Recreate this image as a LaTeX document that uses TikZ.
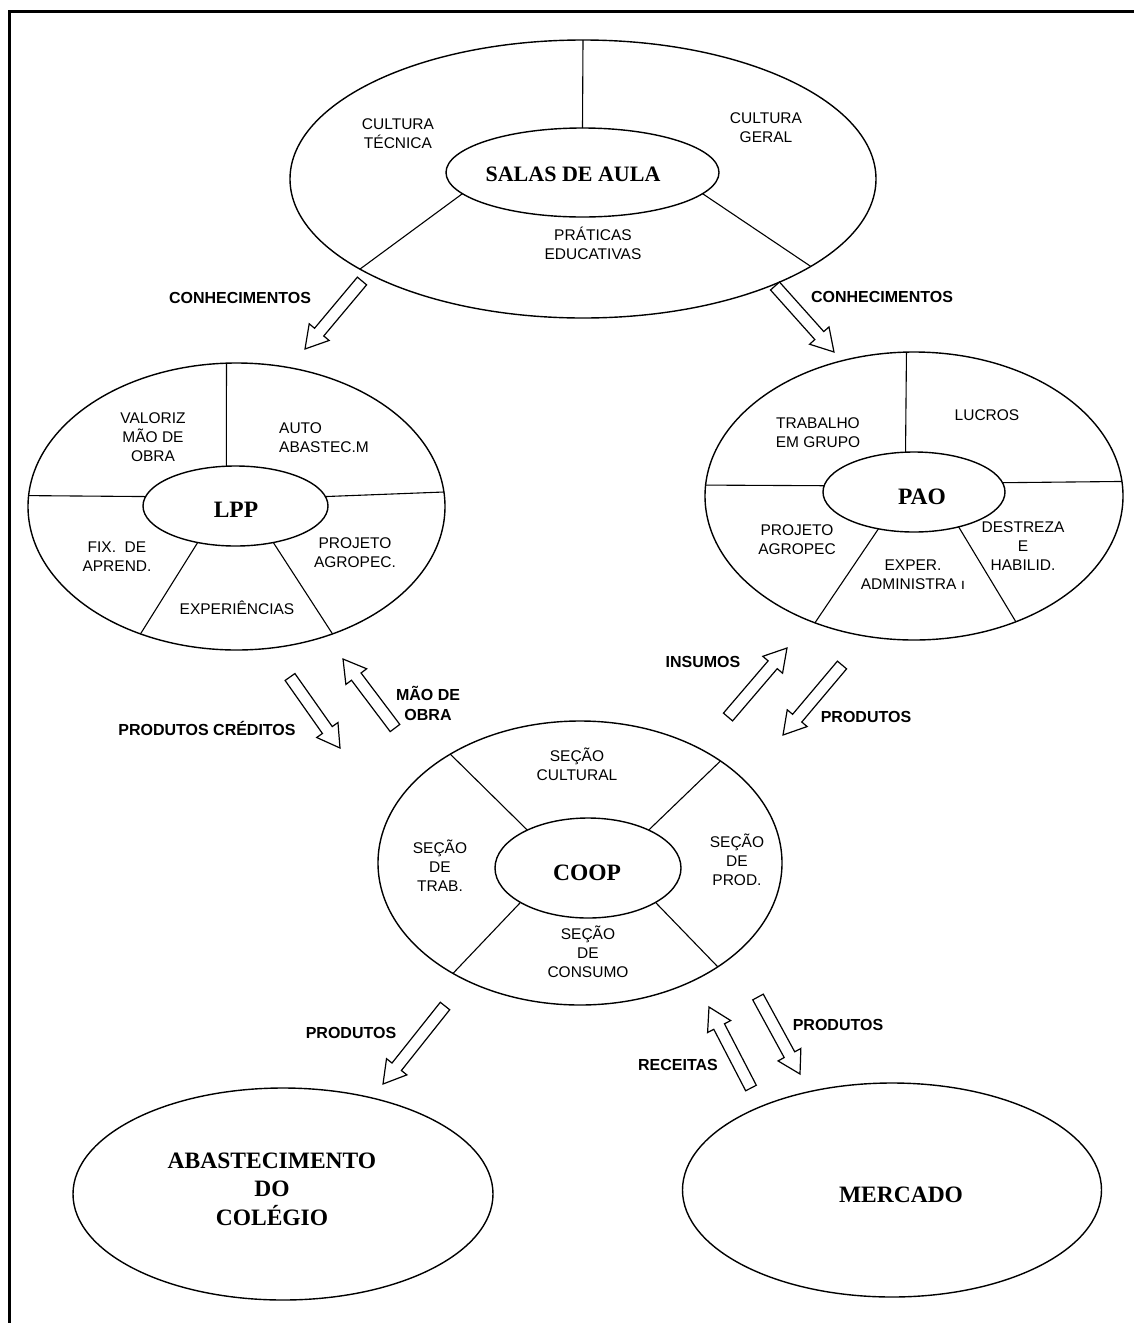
\documentclass[tikz,border=0pt]{standalone}
\usepackage{fontspec}
\setmainfont{Liberation Serif}
\newfontfamily\labfont{Liberation Sans}
\usetikzlibrary{shapes.geometric,calc}

\newcommand\blockarrow[2]{%
  \path let \p1=(#1), \p2=(#2) in \pgfextra{%
    \pgfmathsetmacro\baang{atan2(\y2-\y1,\x2-\x1)}%
    \pgfmathsetmacro\balen{veclen(\x2-\x1,\y2-\y1)}%
    \global\let\baang\baang \global\let\balen\balen};
  \draw[arrowline,shift={(#1)},rotate=\baang]
    (0pt,-6pt) -- ({\balen pt-22pt},-6pt) -- ({\balen pt-22pt},-13pt)
    -- ({\balen pt},0pt) -- ({\balen pt-22pt},13pt) -- ({\balen pt-22pt},6pt)
    -- (0pt,6pt) -- cycle;}

\begin{document}
\begin{tikzpicture}[x=1pt,y=-1pt,
  frame/.style={line width=2.6pt},
  ring/.style={ellipse,draw,line width=1.4pt,inner sep=0pt,outer sep=0pt},
  divider/.style={line width=1.1pt},
  arrowline/.style={draw,line width=1.2pt,line join=miter},
  lab/.style={font=\labfont\fontsize{15.5}{19}\selectfont,align=center,inner sep=0pt},
  blab/.style={font=\labfont\bfseries\fontsize{16}{20}\selectfont,align=center,inner sep=0pt},
  title/.style={font=\bfseries\fontsize{23.5}{28.5}\selectfont,align=center,inner sep=0pt}]

\useasboundingbox (0,0) rectangle (1134,1323);
\draw[frame] (9.5,1323) -- (9.5,11.5) -- (1134,11.5);

% ---------- SALAS DE AULA ----------
\node[ring,minimum width=586pt,minimum height=278pt] (salas) at (583,179) {};
\node[ring,minimum width=273pt,minimum height=89pt] (salasin) at (582.5,172.5) {};
\draw[divider] (salasin.90) -- (salas.90);
\draw[divider] (salasin.190.4) -- (salas.202);
\draw[divider] (salasin.350.2) -- (salas.339.7);
\node[title,font=\bfseries\fontsize{22}{26}\selectfont] (tsalas) at (573,174) {SALAS DE AULA};
\node[lab] (ct) at (398,134) {CULTURA\\TÉCNICA};
\node[lab] (cg) at (766,128) {CULTURA\\GERAL};
\node[lab] (pe) at (593,243) {PRÁTICAS\\EDUCATIVAS};

% ---------- LPP ----------
\node[ring,minimum width=417pt,minimum height=287pt] (lpp) at (236.5,506.5) {};
\node[ring,minimum width=185pt,minimum height=80pt] (lppin) at (235.5,506) {};
\draw[divider] (lppin.103.4) -- (lpp.94.2);
\draw[divider] (lppin.174.4) -- (lpp.177.9);
\draw[divider] (lppin.6.8) -- (lpp.4);
\draw[divider] (lppin.224) -- (lpp.233.6);
\draw[divider] (lppin.316) -- (lpp.307.2);
\node[title] (tlpp) at (236,510) {LPP};
\node[lab] (vm) at (153,437) {VALORIZ\\MÃO DE\\OBRA};
\node[lab,align=left] (aa) at (324,438) {AUTO\\ABASTEC.M};
\node[lab] (fa) at (117,557) {FIX.\ \ DE\\APREND.};
\node[lab] (pa1) at (355,553) {PROJETO\\AGROPEC.};
\node[lab] (ex) at (237,608) {EXPERIÊNCIAS};

% ---------- PAO ----------
\node[ring,minimum width=418pt,minimum height=288pt] (pao) at (914,496) {};
\node[ring,minimum width=182pt,minimum height=80pt] (paoin) at (914,492) {};
\draw[divider] (paoin.102.7) -- (pao.93.6);
\draw[divider] (paoin.176.2) -- (pao.177.5);
\draw[divider] (paoin.6.3) -- (pao.4.4);
\draw[divider] (paoin.226.4) -- (pao.232.7);
\draw[divider] (paoin.322) -- (pao.309.4);
\node[title] (tpao) at (922,497) {PAO};
\node[lab] (tg) at (818,433) {TRABALHO\\EM GRUPO};
\node[lab] (lu) at (987,415) {LUCROS};
\node[lab] (pa2) at (797,540) {PROJETO\\AGROPEC};
\node[lab] (ea) at (913,575) {EXPER.\\ADMINISTRA ı};
\node[lab] (dh) at (1023,546) {DESTREZA\\E\\HABILID.};

% ---------- COOP ----------
\node[ring,minimum width=404pt,minimum height=284pt] (coop) at (580,863) {};
\node[ring,minimum width=186pt,minimum height=100pt] (coopin) at (588,868) {};
\draw[divider] (coopin.148.4) -- (coop.140.9);
\draw[divider] (coopin.32.6) -- (coop.36.9);
\draw[divider] (coopin.207.6) -- (coop.221.6);
\draw[divider] (coopin.333.8) -- (coop.323.8);
\node[title] (tcoop) at (587,873) {COOP};
\node[lab] (sc) at (577,764) {SEÇÃO\\CULTURAL};
\node[lab] (st) at (440,866) {SEÇÃO\\DE\\TRAB.};
\node[lab] (sp) at (737,860) {SEÇÃO\\DE\\PROD.};
\node[lab] (sco) at (588,952) {SEÇÃO\\DE\\CONSUMO};

% ---------- bottom ----------
\node[ring,minimum width=420pt,minimum height=212pt] (abast) at (283,1194) {};
\node[title] (tabast) at (272,1189) {ABASTECIMENTO\\DO\\COLÉGIO};
\node[ring,minimum width=419pt,minimum height=214pt] (merc) at (892,1190) {};
\node[title] (tmerc) at (901,1195) {MERCADO};

% ---------- arrows ----------
\coordinate (a1s) at (362,281); \coordinate (a1e) at (305,349);
\coordinate (a2s) at (775,286); \coordinate (a2e) at (834,352);
\coordinate (a3s) at (290,677); \coordinate (a3e) at (340,748);
\coordinate (a4s) at (395,728); \coordinate (a4e) at (343,659);
\coordinate (a5s) at (728,717); \coordinate (a5e) at (787,648);
\coordinate (a6s) at (842,665); \coordinate (a6e) at (783,735);
\coordinate (a7s) at (445,1006); \coordinate (a7e) at (383,1084);
\coordinate (a8s) at (751,1088); \coordinate (a8e) at (709,1007);
\coordinate (a9s) at (758,997); \coordinate (a9e) at (800,1074);
\blockarrow{a1s}{a1e}
\blockarrow{a2s}{a2e}
\blockarrow{a3s}{a3e}
\blockarrow{a4s}{a4e}
\blockarrow{a5s}{a5e}
\blockarrow{a6s}{a6e}
\blockarrow{a7s}{a7e}
\blockarrow{a8s}{a8e}
\blockarrow{a9s}{a9e}

\node[blab] (l1) at (240,298) {CONHECIMENTOS};
\node[blab] (l2) at (882,297) {CONHECIMENTOS};
\node[blab] (l3) at (207,728) {PRODUTOS CRÉDITOS};
\node[blab] (l4) at (428,703) {MÃO DE\\OBRA};
\node[blab] (l5) at (703,662) {INSUMOS};
\node[blab] (l6) at (866,717) {PRODUTOS};
\node[blab] (l7) at (351,1033) {PRODUTOS};
\node[blab] (l8) at (678,1065) {RECEITAS};
\node[blab] (l9) at (838,1025) {PRODUTOS};
\end{tikzpicture}
\end{document}
